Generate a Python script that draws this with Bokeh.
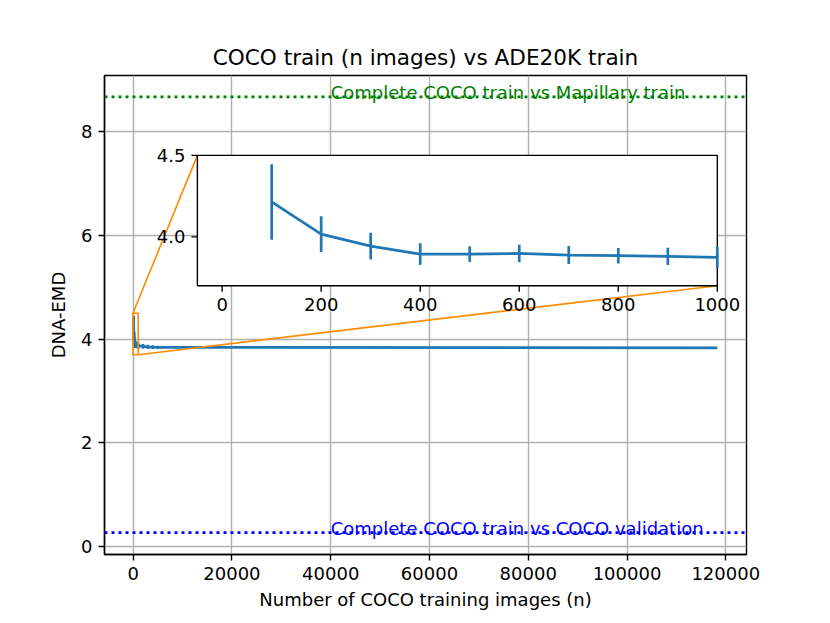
from bokeh.plotting import figure
from bokeh.models import Range1d, ColumnDataSource, FixedTicker, PrintfTickFormatter, Span
from bokeh.core.properties import value
from bokeh.embed import file_html
from bokeh.resources import INLINE

# ---------------- data ----------------
n_images = [100, 200, 300, 400, 500, 600, 700, 800, 900, 1000, 2000, 3000, 4000, 5000, 118287]
dna_emd = [4.214, 4.017, 3.943, 3.894, 3.894, 3.898, 3.888, 3.884, 3.880, 3.874,
           3.862, 3.852, 3.846, 3.842, 3.830]
dna_err = [0.232, 0.110, 0.082, 0.066, 0.048, 0.054, 0.055, 0.048, 0.053, 0.063,
           0.045, 0.040, 0.035, 0.030, 0.0]

ref_values = [8.67, 0.27]
ref_labels = ["Complete COCO train vs Mapillary train", "Complete COCO train vs COCO validation"]
ref_colors = ["green", "blue"]
ref_label_x = 40000

x_ticks = [0, 20000, 40000, 60000, 80000, 100000, 120000]
y_ticks = [0, 2, 4, 6, 8]
inset_x_ticks = [0, 200, 400, 600, 800, 1000]
inset_y_ticks = [4.0, 4.5]

main_xlim = (-5809, 124196)
main_ylim = (-0.15, 9.08)
inset_xlim = (-50, 1000)
inset_ylim = (3.70, 4.5)
# inset placement in main data coords
inset_box_x = (13000, 118287)
inset_box_y = (5.03, 7.54)

FONT = "DejaVu Sans"
FS = "18px"
BLUE = "#1f77b4"
ORANGE = "darkorange"

# ---------------- layout constants ----------------
W, H = 822, 615
MB_L, MB_R, MB_T, MB_B = 104, 76, 75, 61
TICK = 6
PAD = 6
LW = 2.7

fw = W - MB_L - MB_R
fh = H - MB_T - MB_B

# extra ranges so that the inset limits map onto the inset box
kx = (inset_xlim[1] - inset_xlim[0]) / (inset_box_x[1] - inset_box_x[0])
ky = (inset_ylim[1] - inset_ylim[0]) / (inset_box_y[1] - inset_box_y[0])
ins_xr = Range1d(inset_xlim[0] - (inset_box_x[0] - main_xlim[0]) * kx,
                 inset_xlim[1] + (main_xlim[1] - inset_box_x[1]) * kx)
ins_yr = Range1d(inset_ylim[0] - (inset_box_y[0] - main_ylim[0]) * ky,
                 inset_ylim[1] + (main_ylim[1] - inset_box_y[1]) * ky)
# inset units per pixel
ux = (ins_xr.end - ins_xr.start) / fw
uy = (ins_yr.end - ins_yr.start) / fh

lower = [v - e for v, e in zip(dna_emd, dna_err)]
upper = [v + e for v, e in zip(dna_emd, dna_err)]
src = ColumnDataSource(dict(x=n_images, y=dna_emd, lo=lower, hi=upper))
keep = [i for i, n in enumerate(n_images) if inset_xlim[0] <= n <= inset_xlim[1]]
src_in = ColumnDataSource(dict(x=[n_images[i] for i in keep], y=[dna_emd[i] for i in keep],
                               lo=[lower[i] for i in keep], hi=[upper[i] for i in keep]))

p = figure(width=W, height=H, output_backend="svg", toolbar_location=None,
           x_range=Range1d(*main_xlim), y_range=Range1d(*main_ylim),
           min_border_left=MB_L, min_border_right=MB_R,
           min_border_top=MB_T, min_border_bottom=MB_B,
           title="COCO train (n images) vs ADE20K train")
p.extra_x_ranges = {"inset": ins_xr}
p.extra_y_ranges = {"inset": ins_yr}
p.title.text_font = FONT
p.title.text_font_size = "21.6px"
p.title.text_font_style = "normal"
p.title.text_color = "black"
p.title.align = "center"
p.title.standoff = 11
p.outline_line_color = "black"
p.outline_line_width = 1.4
p.background_fill_color = "white"
p.border_fill_color = "white"

for ax in (p.xaxis[0], p.yaxis[0]):
    ax.major_label_text_font = FONT
    ax.major_label_text_font_size = FS
    ax.major_label_text_color = "black"
    ax.axis_label_text_font = FONT
    ax.axis_label_text_font_size = FS
    ax.axis_label_text_font_style = "normal"
    ax.axis_label_text_color = "black"
    ax.major_tick_in = 0
    ax.major_tick_out = TICK
    ax.minor_tick_in = 0
    ax.minor_tick_out = 0
    ax.major_tick_line_width = 1.4
    ax.axis_line_width = 1.4
    ax.axis_line_color = "black"
    ax.major_tick_line_color = "black"
    ax.major_label_standoff = PAD
p.xaxis.ticker = FixedTicker(ticks=x_ticks)
p.yaxis.ticker = FixedTicker(ticks=y_ticks)
p.xaxis.formatter = PrintfTickFormatter(format="%d")
p.yaxis.formatter = PrintfTickFormatter(format="%d")
p.xaxis.axis_label = "Number of COCO training images (n)"
p.yaxis.axis_label = "DNA-EMD"
p.xaxis.axis_label_standoff = 6
p.yaxis.axis_label_standoff = 9
p.grid.grid_line_color = "#b0b0b0"
p.grid.grid_line_width = 1.4

# reference lines + labels
for v, lab, c in zip(ref_values, ref_labels, ref_colors):
    p.add_layout(Span(location=v, dimension="width", line_color=c,
                      line_width=LW, line_dash="3 4"))
p.text(x=[ref_label_x] * 2, y=ref_values, text=ref_labels, text_color=ref_colors,
       text_font=value(FONT), text_font_size=FS, text_baseline="alphabetic",
       text_align="left", y_offset=-4)

# main series
p.line("x", "y", source=src, line_color=BLUE, line_width=LW)
p.segment(x0="x", y0="lo", x1="x", y1="hi", source=src, line_color=BLUE, line_width=LW)

# zoom indicator
p.quad(left=[inset_xlim[0]], right=[inset_xlim[1]], bottom=[inset_ylim[0]], top=[inset_ylim[1]],
       fill_color=None, line_color=ORANGE, line_width=1.6)
p.segment(x0=[inset_xlim[0], inset_xlim[1]], y0=[inset_ylim[1], inset_ylim[0]],
          x1=[inset_box_x[0], inset_box_x[1]], y1=[inset_box_y[1], inset_box_y[0]],
          line_color=ORANGE, line_width=1.6)

# ---------------- inset axes ----------------
R = dict(x_range_name="inset", y_range_name="inset")
p.quad(left=[inset_xlim[0]], right=[inset_xlim[1]], bottom=[inset_ylim[0]], top=[inset_ylim[1]],
       fill_color="white", line_color="black", line_width=1.4, **R)
p.line("x", "y", source=src_in, line_color=BLUE, line_width=LW, **R)
p.segment(x0="x", y0="lo", x1="x", y1="hi", source=src_in, line_color=BLUE, line_width=LW, **R)

# inset ticks
p.segment(x0=inset_x_ticks, x1=inset_x_ticks,
          y0=[inset_ylim[0]] * len(inset_x_ticks),
          y1=[inset_ylim[0] - TICK * uy] * len(inset_x_ticks),
          line_color="black", line_width=1.4, **R)
p.segment(y0=inset_y_ticks, y1=inset_y_ticks,
          x0=[inset_xlim[0]] * len(inset_y_ticks),
          x1=[inset_xlim[0] - TICK * ux] * len(inset_y_ticks),
          line_color="black", line_width=1.4, **R)
p.text(x=inset_x_ticks, y=[inset_ylim[0] - (TICK + PAD) * uy] * len(inset_x_ticks),
       text=["%d" % t for t in inset_x_ticks], text_font=value(FONT), text_font_size=FS,
       text_color="black", text_align="center", text_baseline="top", **R)
p.text(x=[inset_xlim[0] - (TICK + PAD) * ux] * len(inset_y_ticks), y=inset_y_ticks,
       text=["%.1f" % t for t in inset_y_ticks], text_font=value(FONT), text_font_size=FS,
       text_color="black", text_align="right", text_baseline="middle", **R)

open("out.html", "w").write(file_html(p, INLINE))
